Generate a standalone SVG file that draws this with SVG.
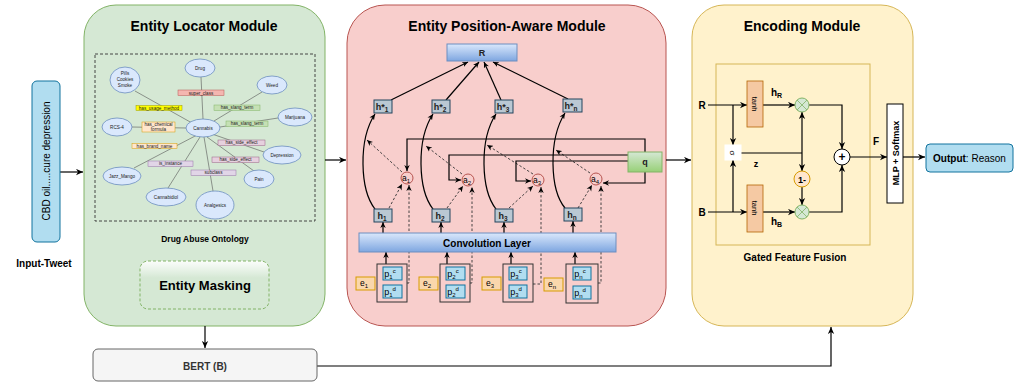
<svg xmlns="http://www.w3.org/2000/svg" width="1028" height="384" viewBox="0 0 1028 384">
<defs>
<marker id="arr" viewBox="0 0 10 10" refX="10" refY="5" markerWidth="7" markerHeight="7" markerUnits="userSpaceOnUse" orient="auto">
<path d="M0,0.5 L10,5 L0,9.5 L3,5 z" fill="#000"/>
</marker>
<marker id="arrs" viewBox="0 0 10 10" refX="10" refY="5" markerWidth="6" markerHeight="6" markerUnits="userSpaceOnUse" orient="auto">
<path d="M0,0.5 L10,5 L0,9.5 L3,5 z" fill="#000"/>
</marker>
<linearGradient id="gBlue" x1="0" y1="0" x2="0" y2="1"><stop offset="0" stop-color="#dae8fc"/><stop offset="1" stop-color="#7ea6e0"/></linearGradient>
<linearGradient id="gGreen" x1="0" y1="0" x2="0" y2="1"><stop offset="0" stop-color="#d5e8d4"/><stop offset="1" stop-color="#97d077"/></linearGradient>
<linearGradient id="gGlass" x1="0" y1="0" x2="0" y2="1"><stop offset="0" stop-color="#ffffff" stop-opacity="0.9"/><stop offset="0.35" stop-color="#d5e8d4"/><stop offset="1" stop-color="#d5e8d4"/></linearGradient>
<style>
text{font-family:"Liberation Sans",Arial,sans-serif;fill:#000}
.title{font-size:14px;font-weight:bold;text-anchor:middle}
.b{font-weight:bold}
.c{text-anchor:middle}
.ln{fill:none;stroke:#000;stroke-width:1.2}
.dl{fill:none;stroke:#333;stroke-width:0.9;stroke-dasharray:2.5 2}
.oe{stroke:#555;stroke-width:0.6;fill:none}
.on{fill:#dae8fc;stroke:#6c8ebf;stroke-width:0.8}
.ot{font-size:4.6px;text-anchor:middle;fill:#222}
.hs{fill:#bac8d3;stroke:#23445d;stroke-width:1}
.pb{fill:#b1ddf0;stroke:#10739e;stroke-width:1}
.eb{fill:#fad7ac;stroke:#d79b00;stroke-width:1}
.pg{fill:none;stroke:#333;stroke-width:1}
.ac{fill:#f8cecc;stroke:#b85450;stroke-width:1}
.nt{font-size:9px;font-weight:bold;text-anchor:middle;fill:#222}
</style>
</defs>

<!-- modules -->
<g id="entity-locator-module">
<rect x="84" y="5" width="241" height="321" rx="32" fill="#d5e8d4" stroke="#82b366"/>
<text class="title" x="204" y="31">Entity Locator Module</text>
<rect x="95" y="54" width="220" height="167" fill="none" stroke="#333" stroke-width="0.9" stroke-dasharray="3 2"/>
<text class="b c" x="205" y="242" font-size="8.5">Drug Abuse Ontology</text>
</g>
<g id="entity-position-aware-module">
<rect x="347" y="5" width="319" height="321" rx="38" fill="#f8cecc" stroke="#b85450"/>
<text class="title" x="507" y="31">Entity Position-Aware Module</text>
</g>
<g id="encoding-module">
<rect x="692" y="5" width="221" height="321" rx="32" fill="#fff2cc" stroke="#d6b656"/>
<text class="title" x="802" y="31">Encoding Module</text>
<rect x="716" y="64" width="154" height="181" fill="#fff2cc" stroke="#d6b656" stroke-width="1"/>
<text class="b c" x="795" y="261" font-size="10">Gated Feature Fusion</text>
</g>

<!-- connectors -->
<g id="connectors">
<path class="ln" d="M60,172 H83" marker-end="url(#arr)"/>
<path class="ln" d="M325,160 H346" marker-end="url(#arr)"/>
<path class="ln" d="M666,160 H691" marker-end="url(#arr)"/>
<path class="ln" d="M205,326 V348" marker-end="url(#arr)"/>
<path class="ln" d="M317,366 H831 V327" marker-end="url(#arr)"/>
<path class="ln" d="M903,157 H925" marker-end="url(#arr)"/>
<!-- ontology edges -->
<g class="oe">
<line x1="201" y1="77" x2="203" y2="119"/>
<line x1="135" y1="91" x2="192" y2="123"/>
<line x1="262" y1="92" x2="214" y2="121"/>
<line x1="278" y1="118" x2="220" y2="127"/>
<line x1="132" y1="127" x2="186" y2="128"/>
<line x1="264" y1="152" x2="212" y2="134"/>
<line x1="254" y1="171" x2="207" y2="137"/>
<line x1="134" y1="168" x2="197" y2="135"/>
<line x1="168" y1="188" x2="200" y2="137"/>
<line x1="213" y1="191" x2="204" y2="137"/>
</g>
<!-- h* to R -->
<path class="ln" d="M391,100 L468,62" marker-end="url(#arrs)"/>
<path class="ln" d="M446,100 L479,62" marker-end="url(#arrs)"/>
<path class="ln" d="M501,100 L484,62" marker-end="url(#arrs)"/>
<path class="ln" d="M568,99 L493,62" marker-end="url(#arrs)"/>
<!-- h to h* curves -->
<path class="ln" d="M375,209 C360,190 358,140 375,114" marker-end="url(#arrs)"/>
<path class="ln" d="M433,209 C418,190 416,140 433,114" marker-end="url(#arrs)"/>
<path class="ln" d="M496,209 C481,190 479,140 496,114" marker-end="url(#arrs)"/>
<path class="ln" d="M565,208 C550,190 548,140 565,113" marker-end="url(#arrs)"/>
<!-- a to curve dashed -->
<path class="dl" d="M402,172 L367,140" marker-end="url(#arrs)"/>
<path class="dl" d="M462,174 L426,146" marker-end="url(#arrs)"/>
<path class="dl" d="M533,174 L487,145" marker-end="url(#arrs)"/>
<path class="dl" d="M590,173 L556,150" marker-end="url(#arrs)"/>
<!-- h to a dashed -->
<path class="dl" d="M389,208 L402,184" marker-end="url(#arrs)"/>
<path class="dl" d="M447,208 L463,186" marker-end="url(#arrs)"/>
<path class="dl" d="M509,208 L533,186" marker-end="url(#arrs)"/>
<path class="dl" d="M578,208 L592,185" marker-end="url(#arrs)"/>
<!-- p to a dashed vertical -->
<path class="dl" d="M407,283 H409 V185" marker-end="url(#arrs)"/>
<path class="dl" d="M470,283 H472 V187" marker-end="url(#arrs)"/>
<path class="dl" d="M533,284 H541 V187" marker-end="url(#arrs)"/>
<path class="dl" d="M598,283 H601 V186" marker-end="url(#arrs)"/>
<!-- q to a -->
<path class="ln" d="M645,152 V139 H407 V171" marker-end="url(#arrs)"/>
<path class="ln" d="M628,155 H449 V180 H461" marker-end="url(#arrs)"/>
<path class="ln" d="M628,161 H516 V181 H531" marker-end="url(#arrs)"/>
<path class="ln" d="M645,172 V183 H603" marker-end="url(#arrs)"/>
<!-- conv to h, p to conv -->
<path class="ln" d="M383,233 V222" marker-end="url(#arrs)"/>
<path class="ln" d="M441,233 V222" marker-end="url(#arrs)"/>
<path class="ln" d="M504,233 V222" marker-end="url(#arrs)"/>
<path class="ln" d="M573,233 V221" marker-end="url(#arrs)"/>
<path class="ln" d="M386,264 V252" marker-end="url(#arrs)"/>
<path class="ln" d="M447,264 V252" marker-end="url(#arrs)"/>
<path class="ln" d="M511,264 V252" marker-end="url(#arrs)"/>
<path class="ln" d="M575,264 V252" marker-end="url(#arrs)"/>
<!-- encoding -->
<path class="ln" d="M708,105 H747" marker-end="url(#arr)"/>
<path class="ln" d="M733,105 V145" marker-end="url(#arr)"/>
<path class="ln" d="M708,212 H747" marker-end="url(#arr)"/>
<path class="ln" d="M733,212 V160" marker-end="url(#arr)"/>
<path class="ln" d="M763,105 H795" marker-end="url(#arr)"/>
<path class="ln" d="M763,212 H795" marker-end="url(#arr)"/>
<path class="ln" d="M741,153 H802"/>
<path class="ln" d="M802,153 V112" marker-end="url(#arr)"/>
<path class="ln" d="M802,153 V171" marker-end="url(#arr)"/>
<path class="ln" d="M802,187 V205" marker-end="url(#arr)"/>
<path class="ln" d="M809,105 H842 V149" marker-end="url(#arr)"/>
<path class="ln" d="M809,212 H842 V165" marker-end="url(#arr)"/>
<path class="ln" d="M850,157 H887" marker-end="url(#arr)"/>
</g>

<!-- input -->
<g id="input-tweet">
<rect x="32" y="81" width="28" height="161" rx="5" fill="#b1ddf0" stroke="#10739e"/>
<text transform="translate(50,161) rotate(-90)" class="c" font-size="10">CBD oil.....cure depression</text>
<text class="b c" x="44" y="267" font-size="10">Input-Tweet</text>
</g>

<!-- ontology nodes -->
<g id="ontology">
<g id="ont-drug"><ellipse class="on" cx="200" cy="68" rx="15" ry="9"/><text class="ot" x="200" y="70">Drug</text></g>
<g id="ont-pills"><ellipse class="on" cx="125" cy="80" rx="15" ry="13"/><text class="ot" x="125" y="75">Pills</text><text class="ot" x="125" y="81">Cookies</text><text class="ot" x="125" y="87">Smoke</text></g>
<g id="ont-weed"><ellipse class="on" cx="272" cy="85" rx="15" ry="9"/><text class="ot" x="272" y="87">Weed</text></g>
<g id="ont-marijuana"><ellipse class="on" cx="295" cy="117" rx="17" ry="9"/><text class="ot" x="295" y="119">Marijuana</text></g>
<g id="ont-rcs4"><ellipse class="on" cx="117" cy="127" rx="15" ry="9"/><text class="ot" x="117" y="129">RCS-4</text></g>
<g id="ont-cannabis"><ellipse class="on" cx="203" cy="128" rx="17" ry="9"/><text class="ot" x="203" y="130">Cannabis</text></g>
<g id="ont-depression"><ellipse class="on" cx="282" cy="155" rx="19" ry="9"/><text class="ot" x="282" y="157">Depression</text></g>
<g id="ont-jazz"><ellipse class="on" cx="122" cy="176" rx="19" ry="9"/><text class="ot" x="122" y="178">Jazz_Mango</text></g>
<g id="ont-pain"><ellipse class="on" cx="259" cy="179" rx="15" ry="9"/><text class="ot" x="259" y="181">Pain</text></g>
<g id="ont-cannabidiol"><ellipse class="on" cx="166" cy="197" rx="20" ry="9"/><text class="ot" x="166" y="199">Cannabidiol</text></g>
<g id="ont-analgesics"><ellipse class="on" cx="215" cy="205" rx="19" ry="14"/><text class="ot" x="215" y="207">Analgesics</text></g>
<g id="ont-labels">
<rect x="178" y="90" width="46" height="5.5" fill="#f4b6b0" stroke="#b85450" stroke-width="0.5"/><text class="ot" x="201" y="94.5">super_class</text>
<rect x="136" y="105.5" width="46" height="5" fill="#ffff00" stroke="#999900" stroke-width="0.5"/><text class="ot" x="159" y="109.6">has_usage_method</text>
<rect x="214" y="105" width="46" height="5.5" fill="#c5e0b4" stroke="#82b366" stroke-width="0.5"/><text class="ot" x="237" y="109.4">has_slang_term</text>
<rect x="226" y="121" width="42" height="5.5" fill="#c5e0b4" stroke="#82b366" stroke-width="0.5"/><text class="ot" x="247" y="125.4">has_slang_term</text>
<rect x="142" y="122" width="33" height="10" fill="#ffe6cc" stroke="#d79b00" stroke-width="0.5"/><text class="ot" x="158.5" y="126.2">has_chemical</text><text class="ot" x="158.5" y="131">formula</text>
<rect x="132" y="143.5" width="45" height="5" fill="#ffe6cc" stroke="#d79b00" stroke-width="0.5"/><text class="ot" x="154.5" y="147.6">has_brand_name</text>
<rect x="218" y="140" width="47" height="5.5" fill="#e6d0de" stroke="#996185" stroke-width="0.5"/><text class="ot" x="241.5" y="144.4">has_side_effect</text>
<rect x="212" y="157" width="47" height="5.5" fill="#e6d0de" stroke="#996185" stroke-width="0.5"/><text class="ot" x="235.5" y="161.4">has_side_effect</text>
<rect x="148" y="161" width="45" height="5.5" fill="#e1d5e7" stroke="#9673a6" stroke-width="0.5"/><text class="ot" x="170.5" y="165.4">is_instance</text>
<rect x="191" y="170" width="45" height="5.5" fill="#e1d5e7" stroke="#9673a6" stroke-width="0.5"/><text class="ot" x="213.5" y="174.4">subclass</text>
</g>
</g>

<g id="entity-masking">
<rect x="140" y="261" width="129" height="48" rx="8" fill="url(#gGlass)" stroke="#82b366" stroke-dasharray="3 2"/>
<text class="b c" x="205" y="290" font-size="13">Entity Masking</text>
</g>

<g id="bert">
<rect x="93" y="349" width="224" height="32" rx="5" fill="#f5f5f5" stroke="#666"/>
<text class="b c" x="205" y="370" font-size="10" style="fill:#333">BERT (B)</text>
</g>

<!-- middle module nodes -->
<g id="R"><rect x="447" y="44" width="70" height="17" fill="url(#gBlue)" stroke="#6c8ebf"/><text class="nt" x="482" y="56">R</text></g>
<g id="hstar1"><rect class="hs" x="374" y="100" width="18" height="13"/><text class="nt" x="382" y="109.5">h*<tspan font-size="6.5" dy="2">1</tspan></text></g>
<g id="hstar2"><rect class="hs" x="432" y="100" width="18" height="13"/><text class="nt" x="440" y="109.5">h*<tspan font-size="6.5" dy="2">2</tspan></text></g>
<g id="hstar3"><rect class="hs" x="495" y="100" width="18" height="13"/><text class="nt" x="503" y="109.5">h*<tspan font-size="6.5" dy="2">3</tspan></text></g>
<g id="hstarn"><rect class="hs" x="563" y="99" width="19" height="13"/><text class="nt" x="571" y="108.5">h*<tspan font-size="6.5" dy="2">n</tspan></text></g>

<g id="a1"><circle class="ac" cx="407" cy="178" r="6"/><text class="c" font-size="8.5" x="406" y="181">a<tspan font-size="6" dy="2">1</tspan></text></g>
<g id="a2"><circle class="ac" cx="468" cy="180" r="6"/><text class="c" font-size="8.5" x="467" y="183">a<tspan font-size="6" dy="2">2</tspan></text></g>
<g id="a3"><circle class="ac" cx="538" cy="180" r="6"/><text class="c" font-size="8.5" x="537" y="183">a<tspan font-size="6" dy="2">3</tspan></text></g>
<g id="a4"><circle class="ac" cx="596" cy="179" r="6"/><text class="c" font-size="8.5" x="595" y="182">a<tspan font-size="6" dy="2">4</tspan></text></g>

<g id="q"><rect x="628" y="152" width="34" height="20" fill="url(#gGreen)" stroke="#82b366"/><text class="nt" x="645" y="165">q</text></g>

<g id="h1"><rect class="hs" x="374" y="209" width="18" height="13"/><text class="nt" x="382" y="218.5">h<tspan font-size="6.5" dy="2">1</tspan></text></g>
<g id="h2"><rect class="hs" x="432" y="209" width="18" height="13"/><text class="nt" x="440" y="218.5">h<tspan font-size="6.5" dy="2">2</tspan></text></g>
<g id="h3"><rect class="hs" x="495" y="209" width="18" height="13"/><text class="nt" x="503" y="218.5">h<tspan font-size="6.5" dy="2">3</tspan></text></g>
<g id="hn"><rect class="hs" x="564" y="208" width="18" height="13"/><text class="nt" x="572" y="217.5">h<tspan font-size="6.5" dy="2">n</tspan></text></g>

<g id="conv"><rect x="359" y="233" width="257" height="19" fill="url(#gBlue)" stroke="#6c8ebf"/><text class="b c" x="487" y="246.5" font-size="10">Convolution Layer</text></g>

<g id="p1">
<rect class="pg" x="377" y="264" width="30" height="38"/>
<rect class="pb" x="383" y="267" width="19" height="13"/><text class="c" font-size="9" x="390" y="277">p<tspan font-size="6" dy="2">1</tspan><tspan font-size="6" dy="-6">c</tspan></text>
<rect class="pb" x="383" y="285" width="19" height="13"/><text class="c" font-size="9" x="390" y="295">p<tspan font-size="6" dy="2">1</tspan><tspan font-size="6" dy="-6">d</tspan></text>
</g>
<g id="p2">
<rect class="pg" x="440" y="264" width="30" height="38"/>
<rect class="pb" x="446" y="267" width="19" height="13"/><text class="c" font-size="9" x="453" y="277">p<tspan font-size="6" dy="2">2</tspan><tspan font-size="6" dy="-6">c</tspan></text>
<rect class="pb" x="446" y="285" width="19" height="13"/><text class="c" font-size="9" x="453" y="295">p<tspan font-size="6" dy="2">2</tspan><tspan font-size="6" dy="-6">d</tspan></text>
</g>
<g id="p3">
<rect class="pg" x="503" y="264" width="30" height="38"/>
<rect class="pb" x="509" y="267" width="18" height="13"/><text class="c" font-size="9" x="516" y="277">p<tspan font-size="6" dy="2">3</tspan><tspan font-size="6" dy="-6">c</tspan></text>
<rect class="pb" x="509" y="285" width="18" height="13"/><text class="c" font-size="9" x="516" y="295">p<tspan font-size="6" dy="2">3</tspan><tspan font-size="6" dy="-6">d</tspan></text>
</g>
<g id="pn">
<rect class="pg" x="566" y="264" width="32" height="39"/>
<rect class="pb" x="573" y="267" width="18" height="13"/><text class="c" font-size="9" x="580" y="277">p<tspan font-size="6" dy="2">n</tspan><tspan font-size="6" dy="-6">c</tspan></text>
<rect class="pb" x="573" y="286" width="18" height="13"/><text class="c" font-size="9" x="580" y="296">p<tspan font-size="6" dy="2">n</tspan><tspan font-size="6" dy="-6">d</tspan></text>
</g>
<g id="e1"><rect class="eb" x="356" y="277" width="19" height="13"/><text class="c" font-size="8.5" x="364" y="286">e<tspan font-size="6" dy="2">1</tspan></text></g>
<g id="e2"><rect class="eb" x="419" y="277" width="19" height="13"/><text class="c" font-size="8.5" x="427" y="286">e<tspan font-size="6" dy="2">2</tspan></text></g>
<g id="e3"><rect class="eb" x="482" y="277" width="19" height="13"/><text class="c" font-size="8.5" x="490" y="286">e<tspan font-size="6" dy="2">3</tspan></text></g>
<g id="en"><rect class="eb" x="544" y="278" width="19" height="13"/><text class="c" font-size="8.5" x="552" y="287">e<tspan font-size="6" dy="2">n</tspan></text></g>

<!-- encoding nodes -->
<g id="enc-labels">
<text class="b c" x="702" y="109" font-size="10">R</text>
<text class="b c" x="702" y="216" font-size="10">B</text>
<text class="b" x="771" y="96" font-size="10">h<tspan font-size="7" dy="2">R</tspan></text>
<text class="b" x="771" y="225" font-size="10">h<tspan font-size="7" dy="2">B</tspan></text>
<text class="b c" x="756" y="167" font-size="9">z</text>
<text class="b c" x="876" y="145" font-size="10">F</text>
</g>
<g id="tanh-r"><rect x="747" y="81" width="16" height="46" fill="#f5c9a3" stroke="#b46504" stroke-width="0.8"/><text transform="translate(752,104) rotate(90)" class="c" font-size="7.5">tanh</text></g>
<g id="tanh-b"><rect x="747" y="185" width="16" height="47" fill="#f5c9a3" stroke="#b46504" stroke-width="0.8"/><text transform="translate(752,208) rotate(90)" class="c" font-size="7.5">tanh</text></g>
<g id="sigma"><rect x="725" y="145" width="16" height="15" fill="#fff" stroke="#fff"/><text transform="translate(730,153) rotate(90)" class="c" font-size="8">σ</text></g>
<g id="mult-r"><circle cx="802" cy="105" r="7" fill="#d5e8d4" stroke="#82b366"/><path d="M797,100 L807,110 M807,100 L797,110" stroke="#82b366" stroke-width="0.8"/></g>
<g id="mult-b"><circle cx="802" cy="212" r="7" fill="#d5e8d4" stroke="#82b366"/><path d="M797,207 L807,217 M807,207 L797,217" stroke="#82b366" stroke-width="0.8"/></g>
<g id="one-minus"><circle cx="802" cy="179" r="8" fill="#ffe6cc" stroke="#d79b00"/><text class="b c" x="802" y="182.5" font-size="9">1-</text></g>
<g id="plus"><circle cx="842" cy="157" r="8" fill="#fff" stroke="#000"/><text class="b c" x="842" y="161" font-size="12">+</text></g>
<g id="mlp"><rect x="887" y="104" width="16" height="99" fill="#fff" stroke="#000"/><text transform="translate(898.5,153) rotate(-90)" class="b c" font-size="9">MLP + Softmax</text></g>
<g id="output"><rect x="926" y="144" width="87" height="28" rx="4" fill="#b1ddf0" stroke="#10739e"/><text class="c" x="969.5" y="161.5" font-size="10"><tspan font-weight="bold">Output</tspan>: Reason</text></g>
</svg>
